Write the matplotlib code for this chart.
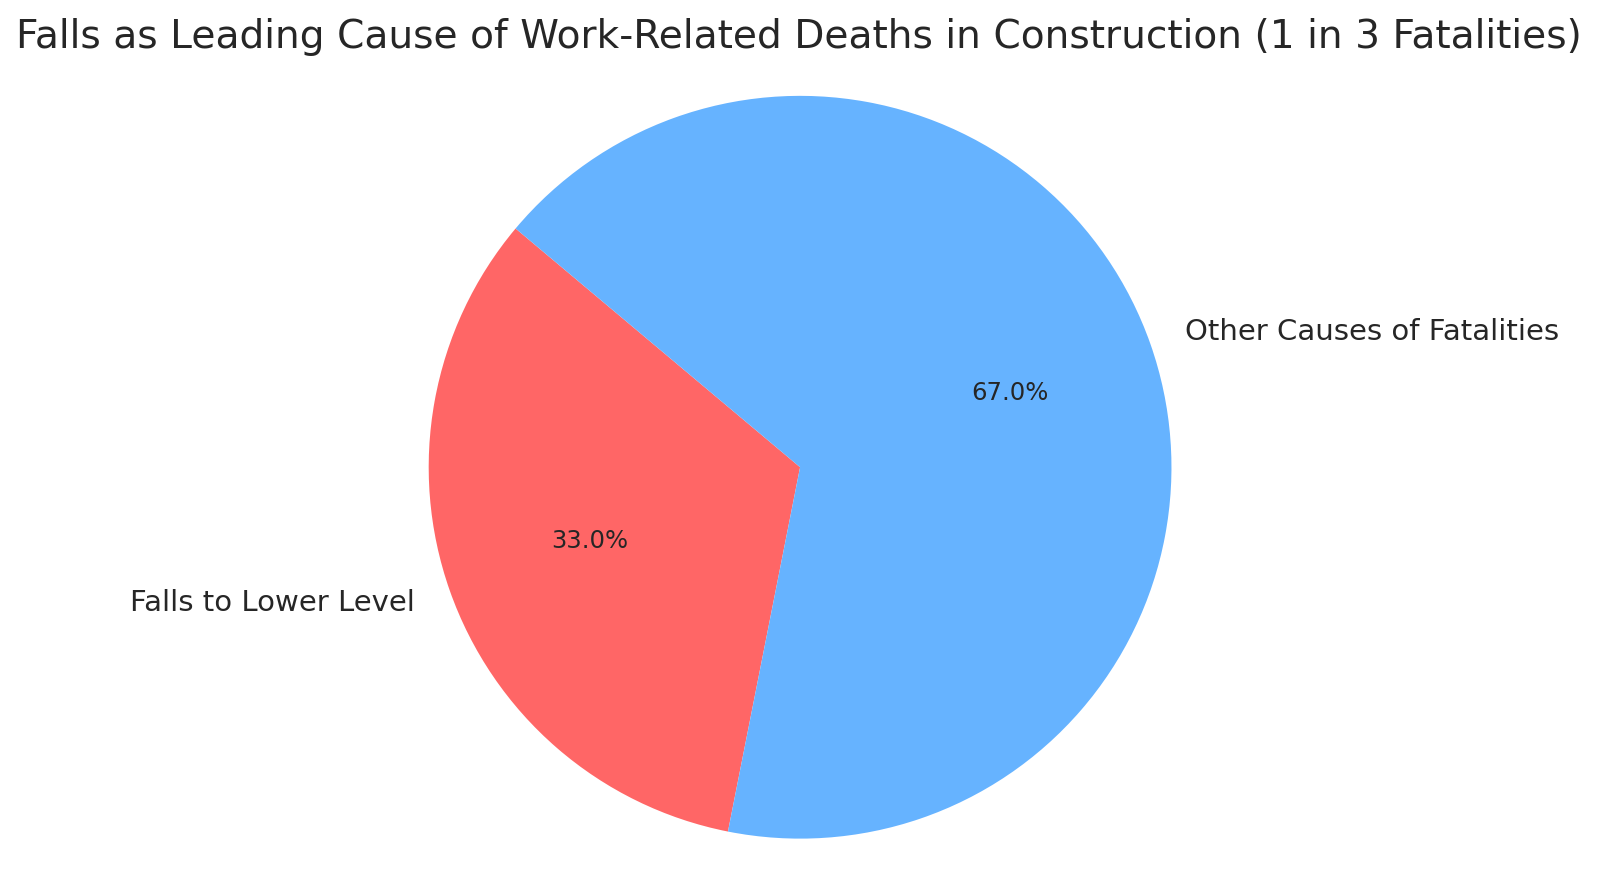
import matplotlib.pyplot as plt

# data
labels = ["Falls to Lower Level", "Other Causes of Fatalities"]
shares = [33, 67]
colors = ["#ff6666", "#66b3ff"]

plt.rcParams["text.color"] = "#262626"

fig = plt.figure(figsize=(16, 8.91), dpi=100)
ax = fig.add_axes([0.2447, 0.0171, 0.5107, 0.917])

ax.pie(shares, labels=labels, colors=colors, autopct="%1.1f%%",
       startangle=140, textprops={"fontsize": 21})
for t in ax.texts:
    if t.get_text().endswith("%"):
        t.set_fontsize(17.5)
ax.set_xlim(-1.1, 1.1)
ax.set_ylim(-1.1, 1.1)
ax.set_aspect("equal")

fig.text(0.4995, 0.959, "Falls as Leading Cause of Work-Related Deaths in Construction (1 in 3 Fatalities)",
         ha="center", va="center", fontsize=28.15)

fig.savefig("out.png", dpi=100)
